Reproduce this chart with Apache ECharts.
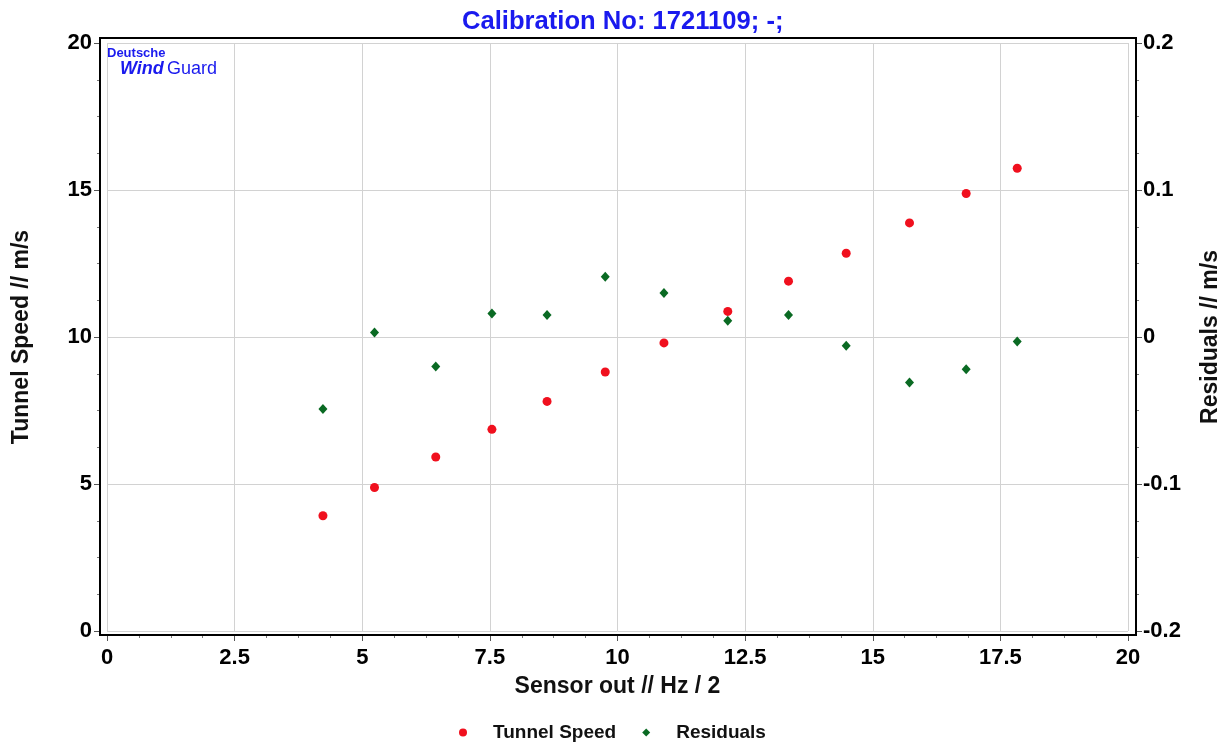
<!DOCTYPE html>
<html style="height: 100%">
<head>
  <meta charset="utf-8">
  <title>Calibration</title>
</head>
<body style="height: 100%; margin: 0; background: #fff">
<div id="container" style="width: 1225px; height: 744px"></div>

<script src="https://cdn.jsdelivr.net/npm/echarts@6/dist/echarts.min.js"></script>
<script>
  // values
  var sensorOut = [4.23, 5.24, 6.44, 7.54, 8.62, 9.76, 10.91, 12.16, 13.35, 14.48, 15.72, 16.83, 17.83];
  var tunnelSpeed = [3.92, 4.88, 5.92, 6.86, 7.81, 8.81, 9.80, 10.87, 11.90, 12.85, 13.88, 14.88, 15.74];
  var residuals = [-0.049, 0.003, -0.020, 0.016, 0.015, 0.041, 0.030, 0.011, 0.015, -0.006, -0.031, -0.022, -0.003];
  var seriesNames = ['Tunnel Speed', 'Residuals'];

  var font = '"Liberation Sans", Arial, sans-serif';
  var blue = '#1a1aee';

  function pairs(xs, ys) {
    var out = [];
    for (var i = 0; i < xs.length; i++) {
      out.push([xs[i], ys[i]]);
    }
    return out;
  }

  var dom = document.getElementById('container');
  var myChart = echarts.init(dom);

  // the plot frame is drawn as one closed box, axis lines are hidden
  var noLine = { show: false, onZero: false };
  var gridLine = { show: true, lineStyle: { color: '#d2d2d2', width: 1 } };
  var tickLabel = { color: '#000', fontFamily: font, fontWeight: 'bold', fontSize: 22 };
  var nameStyle = { color: '#111', fontFamily: font, fontWeight: 'bold', fontSize: 23 };

  var option = {
    animation: false,
    backgroundColor: '#fff',
    title: {
      text: 'Calibration No: 1721109; -;',
      left: 457,
      top: 4,
      textStyle: { color: blue, fontFamily: font, fontWeight: 'bold', fontSize: 25.6 }
    },
    graphic: [
      {
        type: 'rect', z: 100,
        shape: { x: 100, y: 38, width: 1036, height: 597 },
        style: { fill: 'none', stroke: '#000', lineWidth: 2 }
      },
      {
        type: 'text', left: 107, top: 47,
        style: { text: 'Deutsche', fill: blue, font: 'bold 13px ' + font }
      },
      {
        type: 'text', left: 120, top: 60,
        style: { text: 'Wind', fill: blue, font: 'italic bold 18px ' + font }
      },
      {
        type: 'text', left: 167, top: 60,
        style: { text: 'Guard', fill: blue, font: '18px ' + font }
      }
    ],
    legend: {
      data: seriesNames,
      left: 454,
      top: 718,
      itemWidth: 8,
      itemHeight: 8,
      itemGap: 26,
      textStyle: {
        color: '#111', fontFamily: font, fontWeight: 'bold', fontSize: 19,
        padding: [0, 0, 0, 21]
      }
    },
    grid: { left: 107, right: 97, top: 43, bottom: 113, outerBoundsMode: 'none', containLabel: false },
    xAxis: {
      type: 'value',
      min: 0, max: 20, interval: 2.5,
      offset: 4,
      name: 'Sensor out // Hz / 2',
      nameLocation: 'middle',
      nameGap: 40,
      nameTextStyle: nameStyle,
      axisLine: noLine,
      axisTick: { show: true, length: 6, lineStyle: { color: '#555' } },
      minorTick: { show: true, splitNumber: 4, length: 3, lineStyle: { color: '#777' } },
      axisLabel: Object.assign({ margin: 12 }, tickLabel),
      splitLine: gridLine
    },
    yAxis: [
      {
        type: 'value',
        min: 0, max: 20, interval: 5,
        offset: 7,
        name: 'Tunnel Speed // m/s',
        nameLocation: 'middle',
        nameGap: 67,
        nameTextStyle: nameStyle,
        axisLine: noLine,
        axisTick: { show: true, length: 6, lineStyle: { color: '#555' } },
        minorTick: { show: true, splitNumber: 4, length: 3, lineStyle: { color: '#777' } },
        axisLabel: Object.assign({ margin: 8 }, tickLabel),
        splitLine: gridLine
      },
      {
        type: 'value',
        position: 'right',
        min: -0.2, max: 0.2, interval: 0.1,
        offset: 8,
        name: 'Residuals // m/s',
        nameLocation: 'middle',
        nameGap: 63,
        nameTextStyle: nameStyle,
        axisLine: noLine,
        axisTick: { show: true, length: 6, lineStyle: { color: '#555' } },
        minorTick: { show: true, splitNumber: 4, length: 3, lineStyle: { color: '#777' } },
        axisLabel: Object.assign({ margin: 7 }, tickLabel),
        splitLine: { show: false }
      }
    ],
    series: [
      {
        name: seriesNames[0],
        type: 'scatter',
        yAxisIndex: 0,
        symbol: 'circle',
        symbolSize: 9,
        itemStyle: { color: '#f0101e', opacity: 1 },
        data: pairs(sensorOut, tunnelSpeed)
      },
      {
        name: seriesNames[1],
        type: 'scatter',
        yAxisIndex: 1,
        symbol: 'diamond',
        symbolSize: [9, 10],
        itemStyle: { color: '#0a6a23', opacity: 1 },
        data: pairs(sensorOut, residuals)
      }
    ]
  };

  myChart.setOption(option);
</script>
</body>
</html>
